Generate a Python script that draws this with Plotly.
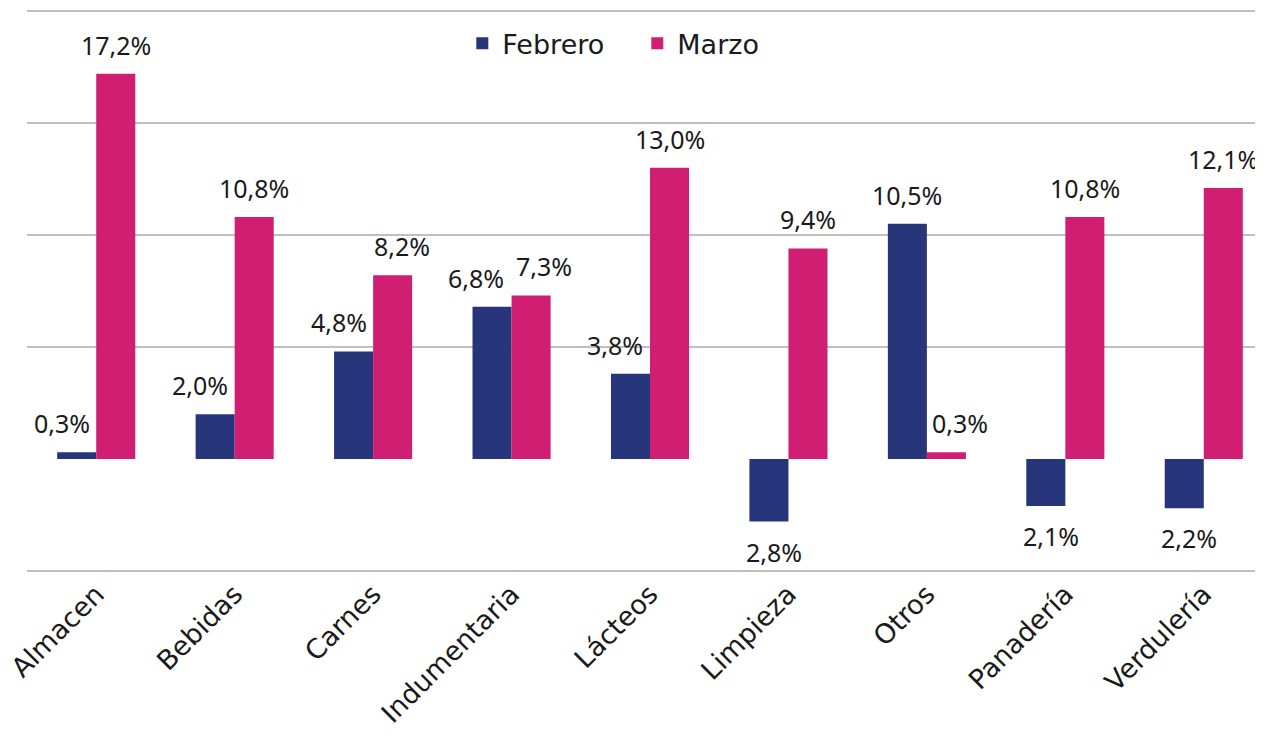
import plotly.graph_objects as go

categorias = ["Almacen", "Bebidas", "Carnes", "Indumentaria", "Lácteos",
              "Limpieza", "Otros", "Panadería", "Verdulería"]
febrero = [0.3, 2.0, 4.8, 6.8, 3.8, -2.8, 10.5, -2.1, -2.2]
marzo = [17.2, 10.8, 8.2, 7.3, 13.0, 9.4, 0.3, 10.8, 12.1]

AZUL = "#27357A"
ROSA = "#D01F72"
TEXTO = "#1A1A1A"

# desplazamiento horizontal (px) de cada etiqueta respecto del centro de su barra
ajuste_feb = [-15, -15, -15, -16, -16, 5, 0, 5, 5]
ajuste_mar = [0, 0, 9, 13, 0, 0, 14, 0, 0]
MEDIA_BARRA = 19.5


def etiqueta(v):
    # el original muestra el valor absoluto con coma decimal
    return f"{abs(v):.1f}%".replace(".", ",")


fig = go.Figure()
fig.add_trace(go.Bar(x=categorias, y=febrero, name="Febrero", marker_color=AZUL,
                     marker_line_width=0))
fig.add_trace(go.Bar(x=categorias, y=marzo, name="Marzo", marker_color=ROSA,
                     marker_line_width=0))

anotaciones = []
for serie, ajustes, lado in [(febrero, ajuste_feb, -1), (marzo, ajuste_mar, 1)]:
    for cat, v, dx in zip(categorias, serie, ajustes):
        anotaciones.append(dict(
            x=cat, y=v, xref="x", yref="y", text=etiqueta(v), showarrow=False,
            xshift=lado * MEDIA_BARRA + dx,
            yanchor="bottom" if v >= 0 else "top",
            yshift=10 if v >= 0 else -11,
            font=dict(family="Noto Sans", size=25, color=TEXTO)))

# la página deja 8 px de margen al cuerpo: se descuentan de los márgenes
fig.update_layout(
    width=1247, height=720,
    margin=dict(l=19, r=0, t=2, b=156),
    paper_bgcolor="white", plot_bgcolor="white",
    barmode="group", bargap=0.436, bargroupgap=0,
    font=dict(family="DejaVu Sans", size=25, color=TEXTO),
    showlegend=True,
    legend=dict(orientation="h", x=0.497, y=0.94, xanchor="center", yanchor="middle",
                font=dict(family="DejaVu Sans", size=27, color=TEXTO),
                itemwidth=30, entrywidth=130, bgcolor="rgba(0,0,0,0)"),
    annotations=anotaciones,
)
fig.update_xaxes(range=[-0.5, 8.37], tickangle=-45, showgrid=False, automargin=False,
                 showline=False, ticks="", tickfont=dict(family="DejaVu Sans", size=27))
fig.update_yaxes(range=[-5.05, 20.05], tickvals=[-5, 5, 10, 15, 20], showticklabels=False,
                 automargin=False, showgrid=True, gridcolor="#BFBFBF", gridwidth=1.5,
                 zeroline=False)

fig.write_html("out.html")
